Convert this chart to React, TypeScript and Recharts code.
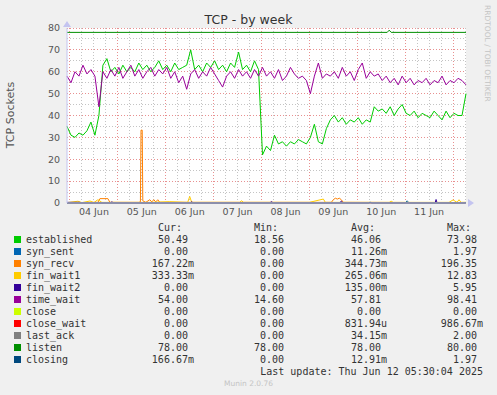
import React from 'react';
import { LineChart, Line, XAxis, YAxis, CartesianGrid, ReferenceLine, ReferenceDot } from 'recharts';

// hours since 04 Jun 00:00, one sample every 2h
const hours = [
  -1.5, 0.5, 2.5, 4.5, 6.5, 8.5, 10.5, 12.5, 14.5, 16.5,
  18.5, 20.5, 22.5, 24.5, 26.5, 28.5, 30.5, 32.5, 34.5, 36.5,
  38.5, 40.5, 42.5, 44.5, 46.5, 48.5, 50.5, 52.5, 54.5, 56.5,
  58.5, 60.5, 62.5, 64.5, 66.5, 68.5, 70.5, 72.5, 74.5, 76.5,
  78.5, 80.5, 82.5, 84.5, 86.5, 88.5, 90.5, 92.5, 94.5, 96.5,
  98.5, 100.5, 102.5, 104.5, 106.5, 108.5, 110.5, 112.5, 114.5, 116.5,
  118.5, 120.5, 122.5, 124.5, 126.5, 128.5, 130.5, 132.5, 134.5, 136.5,
  138.5, 140.5, 142.5, 144.5, 146.5, 148.5, 150.5, 152.5, 154.5, 156.5,
  158.5, 160.5, 162.5, 164.5, 166.5, 168.5, 170.5, 172.5, 174.5, 176.5,
  178.5, 180.5, 182.5, 184.5, 186.5, 188.5, 190.5, 192.5, 194.5, 196.5,
  198.5,
];

const established = [
  35, 31, 30, 32, 31, 33, 37, 31, 40, 63,
  66, 60, 62, 59, 63, 60, 62, 60, 64, 61,
  63, 60, 62, 65, 61, 63, 60, 64, 61, 62,
  63, 70, 61, 63, 60, 64, 62, 65, 61, 63,
  60, 64, 62, 69, 61, 63, 60, 65, 61, 22,
  26, 24, 31, 27, 28, 26, 28, 27, 29, 28,
  27, 30, 36, 28, 27, 34, 38, 40, 37, 39,
  36, 38, 37, 39, 36, 38, 37, 44, 42, 43,
  41, 44, 40, 43, 45, 41, 40, 42, 39, 41,
  40, 39, 42, 40, 38, 42, 39, 41, 40, 40,
  50,
];

const timeWait = [
  58, 55, 60, 58, 63, 59, 61, 58, 44, 60,
  57, 61, 58, 62, 57, 60, 63, 58, 61, 57,
  60, 62, 58, 61, 59, 62, 57, 60, 55, 58,
  52, 59, 61, 57, 60, 58, 62, 59, 56, 53,
  58, 60, 57, 61, 58, 60, 57, 61, 58, 62,
  58, 60, 57, 61, 56, 58, 62, 59, 57, 58,
  56, 50, 58, 64, 57, 59, 58, 60, 57, 62,
  58, 60, 56, 61, 64, 57, 60, 58, 59, 56,
  58, 55, 57, 54, 58, 55, 57, 54, 56, 55,
  57, 54, 56, 55, 58, 54, 56, 55, 57, 56,
  54,
];

// sparse series: [hour, value]
const synSent = [[-1.5, 0], [168, 0], [169, 1], [170, 0], [198.5, 0]];
const synRecv = [
  [-1.5, 0], [12, 0.3], [14, 0.3], [15, 2], [19, 2], [20, 0.3], [34.5, 0.3], [35.3, 0.5],
  [35.6, 33.3], [36.2, 33.3], [36.5, 1], [38, 0.3], [40, 1.5], [41, 0.5], [42, 1.5], [43, 0.5],
  [44, 1.5], [45, 0.3], [131, 0.3], [132, 1.5], [133, 2.2], [134, 1.8], [135, 2.2], [136, 1.5],
  [137, 0.3], [198.5, 0.17],
];
const finWait1 = [
  [-1.5, 0.2], [4, 0.8], [6, 0.2], [10, 0.9], [12, 0.2], [14, 1.5], [16, 0.3], [40, 0.3],
  [50, 0.6], [59, 0.3], [60, 3], [61, 0.3], [85, 0.3], [86, 1], [87, 0.3], [120, 0.3],
  [127, 1.8], [128, 0.3], [160, 0.3], [161, 0.8], [162, 0.3], [190, 0.3], [192, 1.4],
  [194, 0.3], [195, 1.5], [196, 0.3], [198.5, 0.33],
];
const finWait2 = [
  [-1.5, 0.3], [5, 0.3], [6, 0], [20, 0], [21, 0.5], [22, 0], [60, 0], [61, 0.5], [62, 0],
  [100, 0], [101, 0.6], [102, 0], [135, 0], [136, 0.8], [137, 0], [183, 0], [183.5, 1.6],
  [184, 0], [198.5, 0],
];
const zeroLine = [[-1.5, 0], [198.5, 0]];
const listen = [[-1.5, 78], [159, 78], [160, 79], [161, 78], [198.5, 78]];
const closing = [[-1.5, 0], [150, 0], [150.5, 0.5], [151, 0], [198, 0], [198.5, 0.17]];

const dayTicks = [12, 36, 60, 84, 108, 132, 156, 180];
const dayLabels = ['04 Jun', '05 Jun', '06 Jun', '07 Jun', '08 Jun', '09 Jun', '10 Jun', '11 Jun'];
const dayGrid = [0, 24, 48, 72, 96, 120, 144, 168, 192];
const hourGrid = [6, 12, 18, 30, 36, 42, 54, 60, 66, 78, 84, 90, 102, 108, 114, 126, 132, 138, 150, 156, 162, 174, 180, 186, 198];
const yTicks = [0, 10, 20, 30, 40, 50, 60, 70, 80];
const yMajor = [10, 20, 30, 40, 50, 60, 70, 80];
const yMinor = [5, 15, 25, 35, 45, 55, 65, 75];

const legendNames = ['established', 'syn_sent', 'syn_recv', 'fin_wait1', 'fin_wait2', 'time_wait', 'close', 'close_wait', 'last_ack', 'listen', 'closing'];
const legendColors = ['#00CC00', '#0066B3', '#FF8000', '#FFCC00', '#330099', '#990099', '#CCFF00', '#FF0000', '#808080', '#008F00', '#00487D'];
const curVals = ['50.49', '0.00', '167.22m', '333.33m', '0.00', '54.00', '0.00', '0.00', '0.00', '78.00', '166.67m'];
const minVals = ['18.56', '0.00', '0.00', '0.00', '0.00', '14.60', '0.00', '0.00', '0.00', '78.00', '0.00'];
const avgVals = ['46.06', '11.26m', '344.73m', '265.06m', '135.00m', '57.81', '0.00', '831.94u', '34.15m', '78.00', '12.91m'];
const maxVals = ['73.98', '1.97', '196.35', '12.83', '5.95', '98.41', '0.00', '986.67m', '2.00', '80.00', '1.97'];

const mainData = hours.map((t, i) => ({ t, established: established[i], timeWait: timeWait[i] }));
const pts = (arr: number[][]) => arr.map(([t, v]) => ({ t, v }));

const SANS = '"DejaVu Sans", sans-serif';
const MONO = '"DejaVu Sans Mono", monospace';
const AXIS = '#c4c4f0';
const MINOR = '#c4c4c4';
const MAJOR = '#e89090';

const colRight = [194, 290, 387, 483];
const fmt = (s: string) => (/[a-z]$/.test(s) ? s : s + ' ');

function LegendTable() {
  const cell = (text: string, right: number, top: number) => (
    <div style={{ position: 'absolute', right: 497 - right, top, whiteSpace: 'pre', textAlign: 'right' }}>{text}</div>
  );
  return (
    <div style={{ position: 'absolute', left: 0, top: 0, width: 497, height: 395, fontFamily: MONO, fontSize: 10, lineHeight: '12px', color: '#333' }}>
      {['Cur:  ', 'Min:  ', 'Avg:  ', 'Max:  '].map((h, k) => cell(h, colRight[k], 222))}
      {legendNames.map((name, i) => {
        const top = 233.5 + i * 12;
        return (
          <React.Fragment key={name}>
            <div style={{ position: 'absolute', left: 14, top: top + 2.5, width: 7, height: 7, background: legendColors[i] }} />
            <div style={{ position: 'absolute', left: 26, top, whiteSpace: 'pre' }}>{name}</div>
            {cell(fmt(curVals[i]), colRight[0], top)}
            {cell(fmt(minVals[i]), colRight[1], top)}
            {cell(fmt(avgVals[i]), colRight[2], top)}
            {cell(fmt(maxVals[i]), colRight[3], top)}
          </React.Fragment>
        );
      })}
      {cell('Last update: Thu Jun 12 05:30:04 2025', 483, 365.5)}
    </div>
  );
}

export default function App() {
  return (
    <div style={{ position: 'relative', width: 497, height: 395, background: '#f0f0f0', overflow: 'hidden', fontFamily: SANS }}>
      <style>{'body{margin:0;}'}</style>
      <div style={{ position: 'absolute', left: 0, width: 497, top: 12, textAlign: 'center', fontSize: 12.5, color: '#333' }}>TCP - by week</div>
      <div style={{ position: 'absolute', left: 10, top: 115, transform: 'translate(-50%, -50%) rotate(-90deg)', whiteSpace: 'nowrap', fontSize: 11, color: '#555' }}>TCP Sockets</div>
      <div style={{ position: 'absolute', left: 483, top: 5, writingMode: 'vertical-rl', fontSize: 7.5, color: '#c4c4c4', whiteSpace: 'nowrap' }}>RRDTOOL / TOBI OETIKER</div>
      <div style={{ position: 'absolute', left: 0, top: 0 }}>
        <LineChart width={497} height={230} data={mainData} margin={{ top: 28, right: 31, left: 7, bottom: 7 }}>
          <CartesianGrid fill="#ffffff" horizontal={false} vertical={false} />
          <XAxis
            type="number"
            dataKey="t"
            domain={[-1.5, 198.5]}
            ticks={dayTicks}
            tickFormatter={(v: number) => dayLabels[dayTicks.indexOf(v)]}
            tick={{ fontSize: 9.5, fill: '#555', fontFamily: SANS }}
            tickLine={false}
            tickSize={0}
            tickMargin={5}
            height={20}
            axisLine={{ stroke: AXIS }}
          />
          <YAxis
            type="number"
            domain={[0, 80]}
            ticks={yTicks}
            tick={{ fontSize: 9.5, fill: '#555', fontFamily: SANS }}
            tickLine={false}
            tickSize={0}
            tickMargin={7}
            width={60}
            axisLine={{ stroke: AXIS }}
          />
          {hourGrid.map((h) => (
            <ReferenceLine key={'h' + h} x={h} stroke={MINOR} strokeWidth={1} strokeDasharray="1 2" shapeRendering="crispEdges" />
          ))}
          {yMinor.map((y) => (
            <ReferenceLine key={'m' + y} y={y} stroke={MINOR} strokeWidth={1} strokeDasharray="1 2" shapeRendering="crispEdges" />
          ))}
          {dayGrid.map((d) => (
            <ReferenceLine key={'d' + d} x={d} stroke={MAJOR} strokeWidth={1} strokeDasharray="1 2" shapeRendering="crispEdges" />
          ))}
          {yMajor.map((y) => (
            <ReferenceLine key={'y' + y} y={y} stroke={MAJOR} strokeWidth={1} strokeDasharray="1 2" shapeRendering="crispEdges" />
          ))}
          <Line dataKey="established" stroke="#00CC00" strokeWidth={1} dot={false} isAnimationActive={false} />
          <Line data={pts(synSent)} dataKey="v" stroke="#0066B3" strokeWidth={1} dot={false} isAnimationActive={false} />
          <Line data={pts(synRecv)} dataKey="v" stroke="#FF8000" strokeWidth={1} dot={false} isAnimationActive={false} />
          <Line data={pts(finWait1)} dataKey="v" stroke="#FFCC00" strokeWidth={1} dot={false} isAnimationActive={false} />
          <Line data={pts(finWait2)} dataKey="v" stroke="#330099" strokeWidth={1} dot={false} isAnimationActive={false} />
          <Line dataKey="timeWait" stroke="#990099" strokeWidth={1} dot={false} isAnimationActive={false} />
          <Line data={pts(zeroLine)} dataKey="v" stroke="#CCFF00" strokeWidth={1} dot={false} isAnimationActive={false} />
          <Line data={pts(zeroLine)} dataKey="v" stroke="#FF0000" strokeWidth={1} dot={false} isAnimationActive={false} />
          <Line data={pts(zeroLine)} dataKey="v" stroke="#808080" strokeWidth={1} dot={false} isAnimationActive={false} />
          <Line data={pts(listen)} dataKey="v" stroke="#008F00" strokeWidth={1} dot={false} isAnimationActive={false} />
          <Line data={pts(closing)} dataKey="v" stroke="#00487D" strokeWidth={1} dot={false} isAnimationActive={false} />
          <ReferenceDot
            x={198.5}
            y={0}
            ifOverflow="visible"
            shape={(p: any) => <path d={`M${p.cx + 2},${p.cy - 4} L${p.cx + 8},${p.cy} L${p.cx + 2},${p.cy + 4} Z`} fill={AXIS} />}
          />
          <ReferenceDot
            x={-1.5}
            y={80}
            ifOverflow="visible"
            shape={(p: any) => <path d={`M${p.cx - 4},${p.cy - 1} L${p.cx},${p.cy - 7} L${p.cx + 4},${p.cy - 1} Z`} fill={AXIS} />}
          />
        </LineChart>
      </div>
      <LegendTable />
      <div style={{ position: 'absolute', left: 0, width: 497, top: 379, textAlign: 'center', fontSize: 7.5, color: '#c4c4c4' }}>Munin 2.0.76</div>
    </div>
  );
}
